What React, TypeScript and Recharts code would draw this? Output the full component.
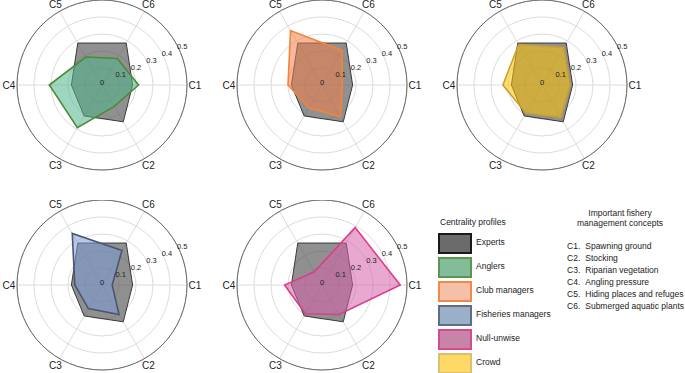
import React from 'react'
import {
  RadarChart,
  Radar,
  PolarGrid,
  PolarAngleAxis,
  PolarRadiusAxis,
} from 'recharts'

const concepts = ['C1', 'C2', 'C3', 'C4', 'C5', 'C6']
const conceptNames = [
  'Spawning ground',
  'Stocking',
  'Riparian vegetation',
  'Angling pressure',
  'Hiding places and refuges',
  'Submerged aquatic plants',
]

// centrality values per concept, C1..C6
const experts = [0.18, 0.25, 0.21, 0.18, 0.285, 0.285]
const anglers = [0.215, 0.145, 0.29, 0.31, 0.19, 0.18]
const clubManagers = [0.12, 0.215, 0.155, 0.2, 0.37, 0.235]
const crowd = [0.165, 0.22, 0.19, 0.23, 0.275, 0.255]
const fisheriesManagers = [0.06, 0.2, 0.16, 0.16, 0.35, 0.235]
const nullUnwise = [0.46, 0.2, 0.195, 0.22, 0.09, 0.39]

const FONT = '"Liberation Sans", Arial, Helvetica, sans-serif'
const CX = 102
const CY = 85
const R = 85

type Group = {
  name: string
  values: number[]
  fill: string
  stroke: string
}

const groups: Group[] = [
  { name: 'Anglers', values: anglers, fill: '#4fb58c', stroke: '#4e8a36' },
  { name: 'Club managers', values: clubManagers, fill: '#f07e4b', stroke: '#f3843a' },
  { name: 'Crowd', values: crowd, fill: '#ffc500', stroke: '#c8a030' },
  { name: 'Fisheries managers', values: fisheriesManagers, fill: '#7e9bd5', stroke: '#4a5670' },
  { name: 'Null-unwise', values: nullUnwise, fill: '#d561aa', stroke: '#d9408a' },
]

const legendOrder = [
  { name: 'Experts', swatch: '#6b6b6b', border: '#1a1a1a' },
  { name: 'Anglers', swatch: '#82bc98', border: '#5c9450' },
  { name: 'Club managers', swatch: '#f5bfa8', border: '#f08a48' },
  { name: 'Fisheries managers', swatch: '#9ab0c8', border: '#606c80' },
  { name: 'Null-unwise', swatch: '#c884a8', border: '#d84890' },
  { name: 'Crowd', swatch: '#ffd966', border: '#dcc070' },
]

const positions = [
  { left: 0, top: 0 },
  { left: 220, top: 0 },
  { left: 440, top: 0 },
  { left: 0, top: 200 },
  { left: 220, top: 200 },
]

function AngleTick(props: any) {
  const angle = (props.payload.coordinate * Math.PI) / 180
  const x = CX + 93 * Math.cos(angle)
  const y = CY - 93 * Math.sin(angle)
  return (
    <text x={x} y={y} textAnchor="middle" dominantBaseline="central" fontSize={10} fill="#222" fontFamily={FONT}>
      {props.payload.value}
    </text>
  )
}

function RadiusTick(props: any) {
  const v = Number(props.payload.value)
  return (
    <text x={props.x - 2} y={props.y - 3} textAnchor="start" dominantBaseline="central" fontSize={7.5} fill="#222" fontFamily={FONT}>
      {String(+v.toFixed(1))}
    </text>
  )
}

function Profile({ group }: { group: Group }) {
  const data = concepts.map((c, i) => ({
    concept: c,
    experts: experts[i],
    group: group.values[i],
  }))
  return (
    <RadarChart width={220} height={190} data={data} cx={CX} cy={CY} outerRadius={R} startAngle={0} endAngle={-360}>
      <PolarGrid gridType="circle" stroke="#dcdcdc" />
      <PolarAngleAxis dataKey="concept" tick={AngleTick} tickLine={false} axisLineType="circle" axisLine={{ stroke: '#666' }} />
      <Radar dataKey="experts" fill="#555555" fillOpacity={0.65} stroke="#3a3a3a" strokeWidth={1} isAnimationActive={false} />
      <Radar dataKey="group" fill={group.fill} fillOpacity={0.55} stroke={group.stroke} strokeWidth={1.6} isAnimationActive={false} />
      <PolarRadiusAxis angle={25} domain={[0, 0.5]} tickCount={6} allowDecimals tick={RadiusTick} axisLine={false} tickLine={false} />
    </RadarChart>
  )
}

export default function App() {
  return (
    <div style={{ position: 'absolute', left: 0, top: 0, width: 685, height: 373, overflow: 'hidden', background: '#fff', fontFamily: FONT }}>
      {groups.map((g, i) => (
        <div key={g.name} style={{ position: 'absolute', ...positions[i] }}>
          <Profile group={g} />
        </div>
      ))}

      <div style={{ position: 'absolute', left: 440, top: 217, fontSize: 8.5, color: '#222' }}>Centrality profiles</div>
      {legendOrder.map((l, i) => (
        <div key={l.name}>
          <div
            style={{
              position: 'absolute',
              left: 438,
              top: 233 + 24 * i,
              width: 30,
              height: 17,
              background: l.swatch,
              border: `2px solid ${l.border}`,
            }}
          />
          <div style={{ position: 'absolute', left: 476, top: 237 + 24 * i, fontSize: 8.5, color: '#222' }}>{l.name}</div>
        </div>
      ))}

      <div style={{ position: 'absolute', left: 560, top: 208, width: 120, textAlign: 'center', fontSize: 8.5, lineHeight: '10px', color: '#222' }}>
        Important fishery
        <br />
        management concepts
      </div>
      {concepts.map((c, i) => (
        <div key={c} style={{ position: 'absolute', left: 567, top: 241 + 12 * i, fontSize: 8.5, color: '#222', whiteSpace: 'nowrap' }}>
          {c}.<span style={{ marginLeft: 5 }}>{conceptNames[i]}</span>
        </div>
      ))}
    </div>
  )
}
